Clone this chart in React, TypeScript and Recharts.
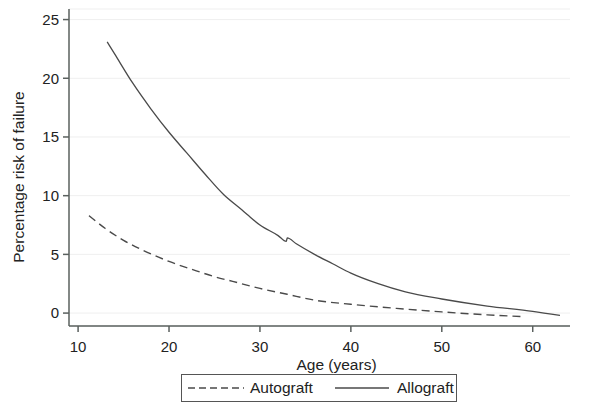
import { LineChart, Line, XAxis, YAxis, CartesianGrid } from 'recharts'

// Autograft curve (age in years, % risk of failure)
const autoAges = [11.2, 13, 15, 17, 20, 23, 25, 27, 30, 33, 36, 40, 45, 50, 55, 59]
const autoRisk = [8.3, 7.2, 6.2, 5.4, 4.4, 3.6, 3.1, 2.7, 2.1, 1.6, 1.1, 0.75, 0.4, 0.1, -0.15, -0.3]

// Allograft curve
const alloAges = [13.2, 14, 16, 18, 20, 22, 24, 26, 28, 28.6, 30, 32, 32.9, 33, 34, 36, 38, 40, 43, 46, 50, 55, 60, 63]
const alloRisk = [23.1, 22.1, 19.6, 17.4, 15.4, 13.6, 11.8, 10.1, 8.8, 8.4, 7.5, 6.6, 6.1, 6.4, 5.9, 5.0, 4.2, 3.4, 2.5, 1.8, 1.2, 0.6, 0.15, -0.2]

const xTicks = [10, 20, 30, 40, 50, 60]
const yTicks = [0, 5, 10, 15, 20, 25]

const autograft = autoAges.map((age, i) => ({ age, risk: autoRisk[i] }))
const allograft = alloAges.map((age, i) => ({ age, risk: alloRisk[i] }))

const axisColor = '#5a605e'
const lineColor = '#4a4a4a'
const font = '"Liberation Sans", Arial, sans-serif'

// rotated y-axis title, centred a bit below the plot centre like the original
const YTitle = () => (
  <text
    x={18}
    y={177}
    transform="rotate(-90, 18, 177)"
    textAnchor="middle"
    dominantBaseline="central"
    fill="#222"
    fontSize={15.5}
    fontFamily={font}
  >
    Percentage risk of failure
  </text>
)

export default function App() {
  return (
    <div style={{ position: 'absolute', left: 0, top: 0, width: 600, height: 410, background: '#fff', fontFamily: font }}>
      <LineChart width={600} height={410} margin={{ top: 9, right: 30, left: 0, bottom: 0 }}>
        <CartesianGrid vertical={false} stroke="#efefef" />
        <XAxis
          type="number"
          dataKey="age"
          domain={[9, 64.1]}
          ticks={xTicks}
          allowDataOverflow
          height={84}
          stroke={axisColor}
          strokeWidth={1.5}
          tickSize={6}
          tickMargin={9}
          tick={{ fill: '#222', fontSize: 15, fontFamily: font }}
          label={{ value: 'Age (years)', position: 'insideBottom', offset: 40, dx: 17, fill: '#222', fontSize: 15.5, fontFamily: font }}
        />
        <YAxis
          type="number"
          domain={[-1.1, 25.9]}
          ticks={yTicks}
          allowDataOverflow
          width={69}
          stroke={axisColor}
          strokeWidth={1.5}
          tickSize={6}
          tickMargin={4}
          tick={{ fill: '#222', fontSize: 15, fontFamily: font }}
          label={{ content: <YTitle /> }}
        />
        <Line data={autograft} dataKey="risk" type="monotone" stroke={lineColor} strokeWidth={1.4} strokeDasharray="8 5" dot={false} isAnimationActive={false} />
        <Line data={allograft} dataKey="risk" type="monotone" stroke={lineColor} strokeWidth={1.3} dot={false} isAnimationActive={false} />
      </LineChart>

      {/* Legend box */}
      <div
        style={{
          position: 'absolute',
          left: 181,
          top: 374,
          width: 274,
          height: 26,
          border: '1.5px solid #555',
          display: 'flex',
          alignItems: 'center',
          fontSize: 15.5,
          color: '#222',
        }}
      >
        <svg width={56} height={10} style={{ marginLeft: 6 }}>
          <line x1={0} y1={5} x2={56} y2={5} stroke={lineColor} strokeWidth={1.4} strokeDasharray="7 4" />
        </svg>
        <span style={{ marginLeft: 6 }}>Autograft</span>
        <svg width={54} height={10} style={{ marginLeft: 22 }}>
          <line x1={0} y1={5} x2={54} y2={5} stroke={lineColor} strokeWidth={1.3} />
        </svg>
        <span style={{ marginLeft: 8 }}>Allograft</span>
      </div>
    </div>
  )
}
